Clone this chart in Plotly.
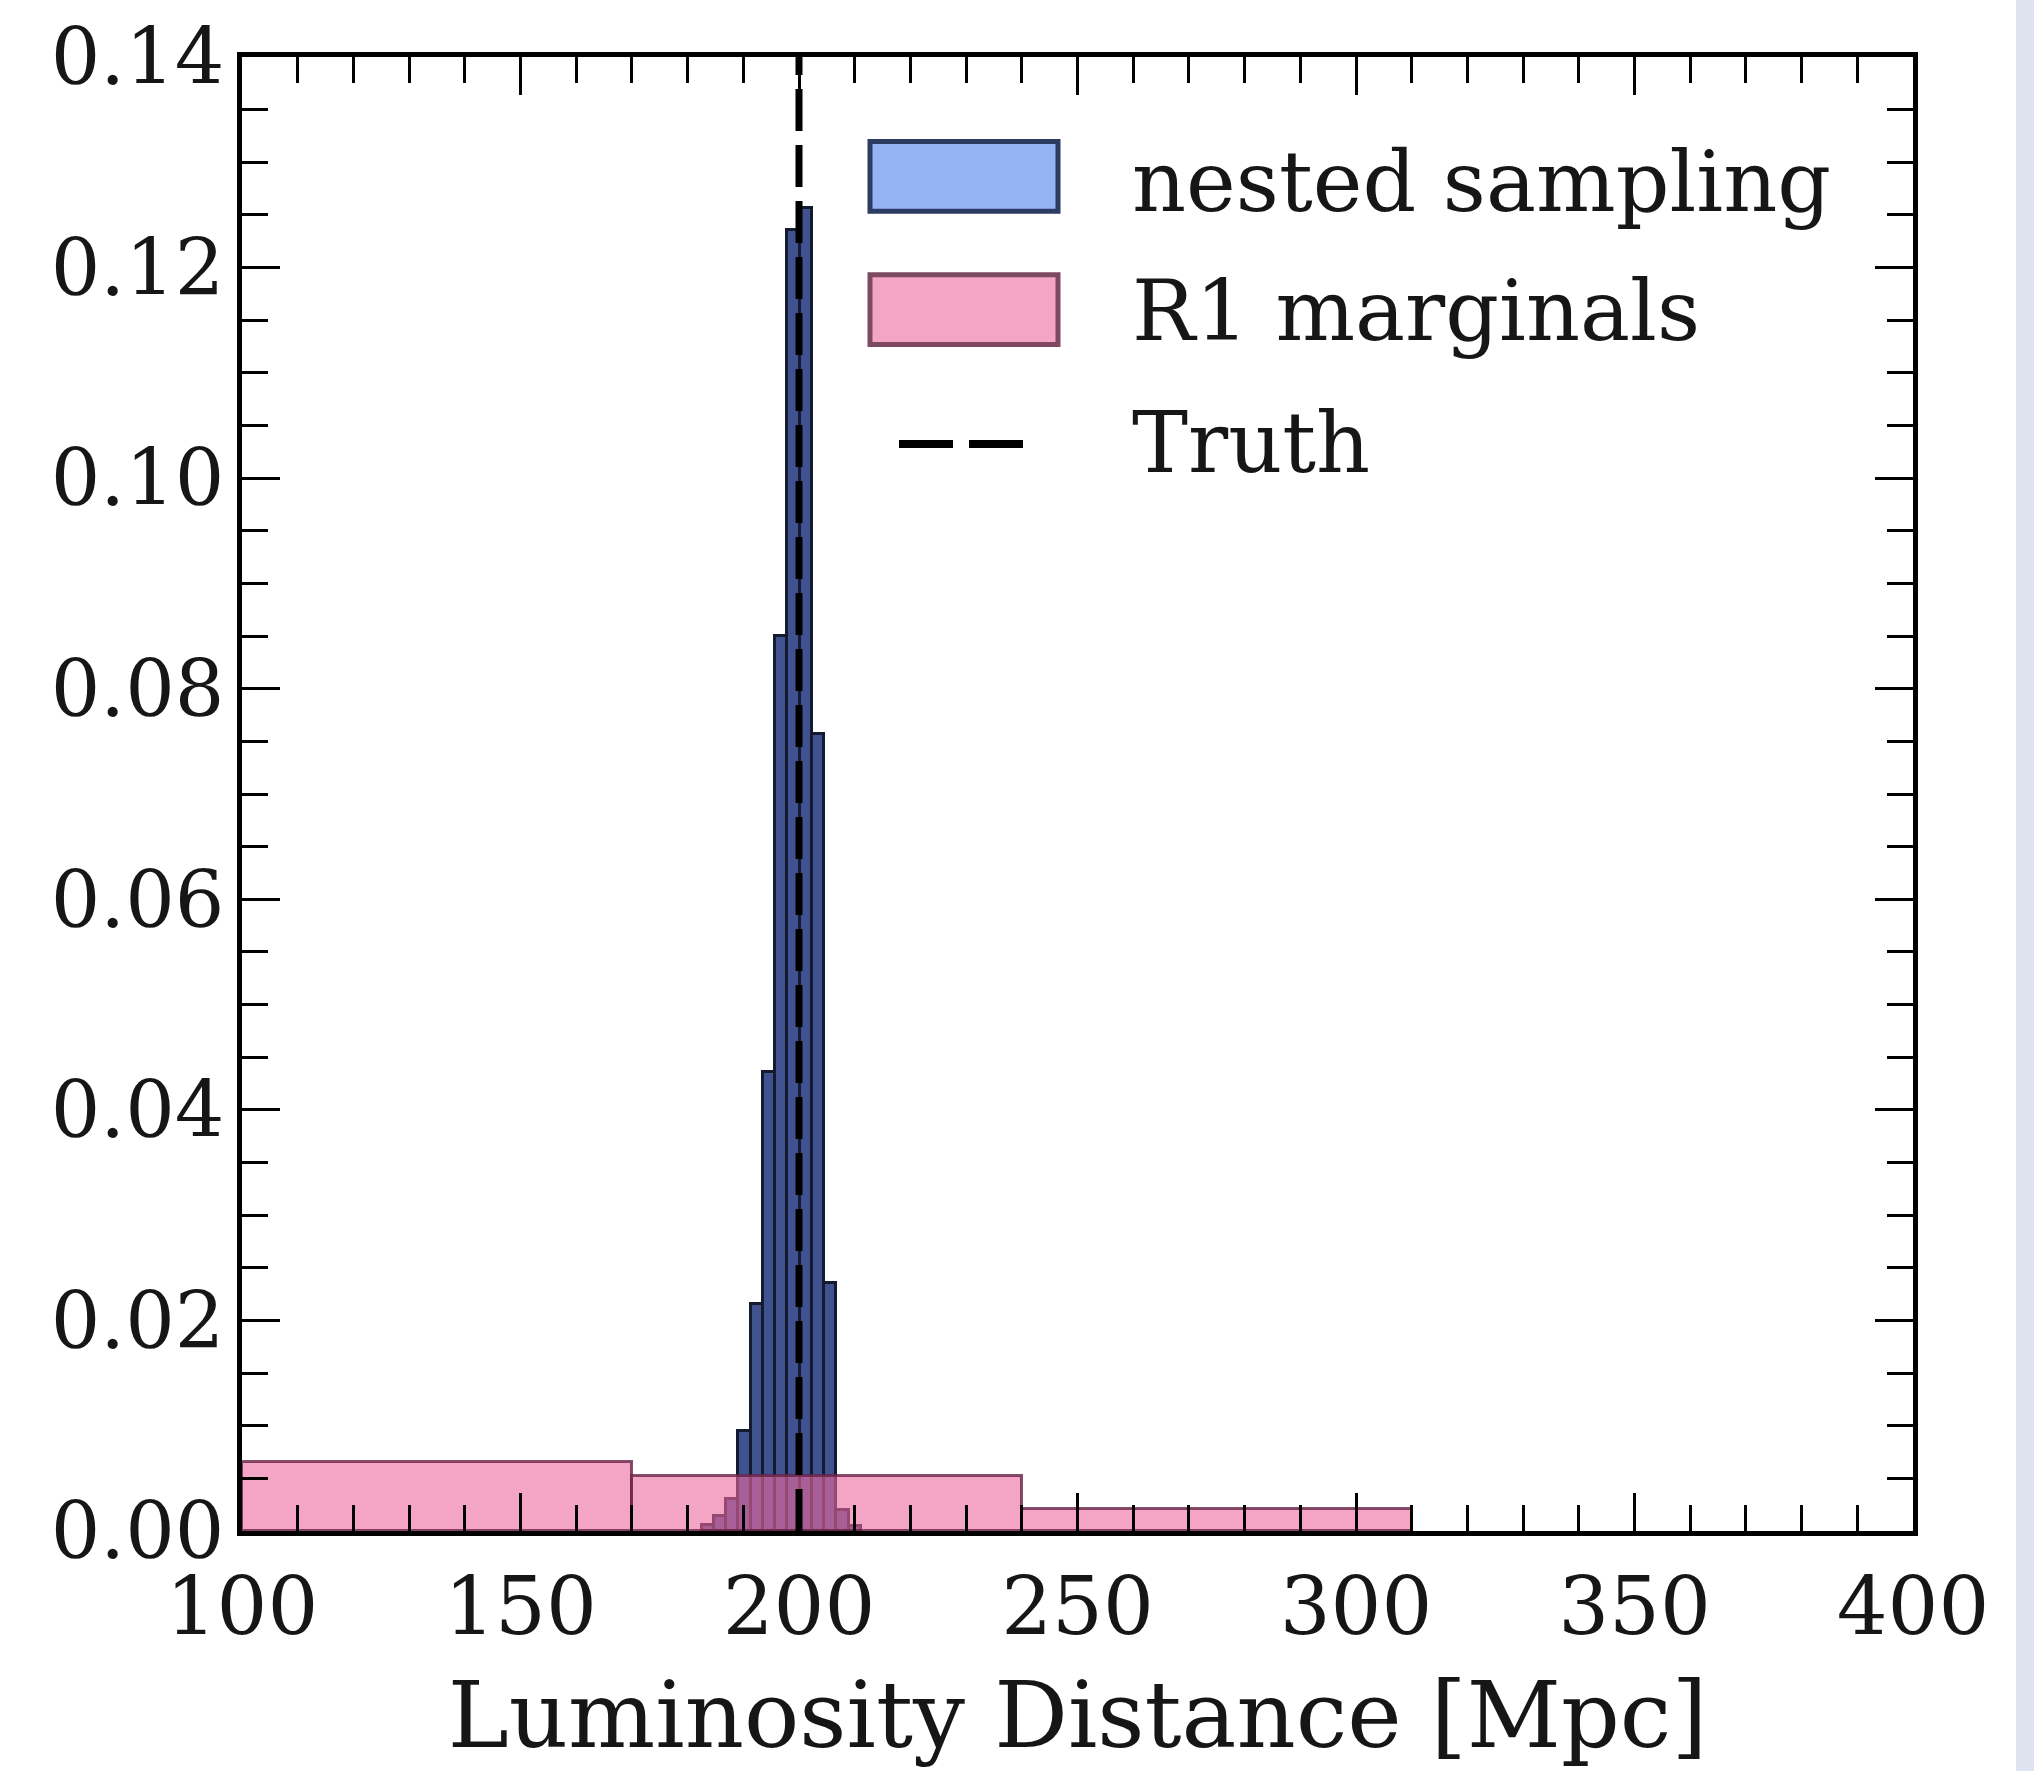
import plotly.graph_objects as go

# Nested sampling posterior for the luminosity distance (normalised histogram)
ns_left_edges = [182.5, 184.7, 186.9, 189.1, 191.3, 193.5, 195.7, 197.9,
                 200.1, 202.3, 204.5, 206.7, 208.9]
ns_density = [0.0006, 0.0014, 0.0030, 0.0095, 0.0216, 0.0436, 0.0850, 0.1236,
              0.1257, 0.0757, 0.0236, 0.0020, 0.0005]
ns_bin_width = 2.2

# R1 marginal posterior (coarse bins)
r1_left_edges = [100, 170, 240]
r1_density = [0.0066, 0.0052, 0.0021]
r1_bin_width = 70

# Injected value
truth_distance = 200

x_tick_values = [100, 150, 200, 250, 300, 350, 400]
y_tick_values = [0.00, 0.02, 0.04, 0.06, 0.08, 0.10, 0.12, 0.14]

legend_labels = ["nested sampling", "R1 marginals", "Truth"]

FONT = "DejaVu Serif"
INK = "#161616"

W, H = 2034, 1771
M_L, M_R, M_T, M_B = 242, 121, 49, 240
PW, PH = W - M_L - M_R, H - M_T - M_B


def px_to_paper(x=None, y=None):
    """Convert page pixel positions into paper fractions of the plot area."""
    out = []
    if x is not None:
        out.append((x - M_L) / PW)
    if y is not None:
        out.append((H - M_B - y) / PH)
    return out[0] if len(out) == 1 else tuple(out)


fig = go.Figure()

fig.add_trace(go.Bar(
    x=[e + ns_bin_width / 2 for e in ns_left_edges],
    y=ns_density,
    width=ns_bin_width,
    marker=dict(color="#405390", line=dict(color="#141a30", width=3)),
    name=legend_labels[0],
    showlegend=False,
))

fig.add_trace(go.Bar(
    x=[e + r1_bin_width / 2 for e in r1_left_edges],
    y=r1_density,
    width=r1_bin_width,
    marker=dict(color="rgba(237,103,157,0.6)",
                line=dict(color="rgba(105,35,70,0.8)", width=3)),
    name=legend_labels[1],
    showlegend=False,
))

fig.add_trace(go.Scatter(
    x=[truth_distance, truth_distance],
    y=[y_tick_values[0], y_tick_values[-1]],
    mode="lines",
    line=dict(color="black", width=7, dash="42px,14px"),
    name=legend_labels[2],
    showlegend=False,
))

axis_common = dict(
    showline=True, linecolor="black", linewidth=5, mirror="allticks",
    ticks="inside", tickcolor="black", tickwidth=3, ticklen=38,
    showgrid=False, zeroline=False,
)

fig.update_xaxes(
    range=[100, 400], tickvals=x_tick_values,
    tickfont=dict(family=FONT, size=80, color=INK),
    ticklabelstandoff=2,
    minor=dict(dtick=10, tick0=100, ticks="inside", ticklen=26, tickwidth=3,
               tickcolor="black", showgrid=False),
    title=dict(text="Luminosity Distance [Mpc]", standoff=32,
               font=dict(family=FONT, size=92, color=INK)),
    **axis_common,
)
fig.update_yaxes(
    range=[0, 0.14], tickvals=y_tick_values, tickformat=".2f",
    tickfont=dict(family=FONT, size=78, color=INK),
    ticklabelstandoff=-3,
    minor=dict(dtick=0.005, tick0=0, ticks="inside", ticklen=26, tickwidth=3,
               tickcolor="black", showgrid=False),
    **axis_common,
)

# Legend drawn as patches + labels
shapes = []
annotations = []
x0p, x1p = px_to_paper(x=870), px_to_paper(x=1058)
patch_rows = [
    (134, 204, "#94b4f6", "#2c3b62"),
    (268, 338, "#f4a4c4", "#7d4a62"),
]
for top, bottom, fill, edge in patch_rows:
    shapes.append(dict(type="rect", xref="paper", yref="paper",
                       x0=x0p, x1=x1p, y0=px_to_paper(y=bottom), y1=px_to_paper(y=top),
                       fillcolor=fill, line=dict(color=edge, width=5), layer="above"))
shapes.append(dict(type="line", xref="paper", yref="paper",
                   x0=px_to_paper(x=899), x1=px_to_paper(x=1027),
                   y0=px_to_paper(y=438), y1=px_to_paper(y=438),
                   line=dict(color="black", width=8, dash="54px,16px"), layer="above"))

label_baselines = [205, 335, 467]
for label, base in zip(legend_labels, label_baselines):
    annotations.append(dict(
        text=label, xref="paper", yref="paper", showarrow=False,
        x=px_to_paper(x=1130), y=px_to_paper(y=base + 21),
        xanchor="left", yanchor="bottom",
        font=dict(family=FONT, size=84, color=INK),
    ))

# pale strip at the right edge of the page
shapes.append(dict(type="rect", xref="paper", yref="paper",
                   x0=px_to_paper(x=2016), x1=px_to_paper(x=2040),
                   y0=px_to_paper(y=1780), y1=px_to_paper(y=-10),
                   fillcolor="#dde4ef", line=dict(width=0), layer="below"))

fig.update_layout(
    width=W, height=H,
    margin=dict(l=M_L, r=M_R, t=M_T, b=M_B, pad=0),
    paper_bgcolor="white", plot_bgcolor="white",
    barmode="overlay", bargap=0,
    showlegend=False,
    shapes=shapes, annotations=annotations,
    font=dict(family=FONT, color=INK),
)

fig.write_html("out.html")
